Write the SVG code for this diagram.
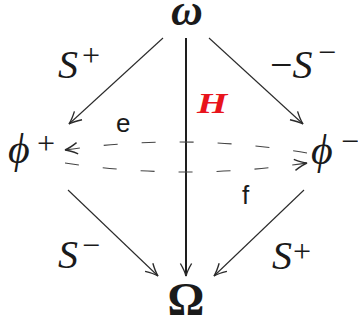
<svg xmlns="http://www.w3.org/2000/svg" width="358" height="322" viewBox="0 0 358 322">
<style>
.ln{fill:none;stroke:#2a2a2a;stroke-width:1.1}
.vl{fill:none;stroke:#1e1e1e;stroke-width:2}
.dl{fill:none;stroke:#444;stroke-width:1.1;stroke-dasharray:14 24}
.ah{fill:none;stroke:#2a2a2a;stroke-width:1.1;stroke-dasharray:none}
.ser{font-family:"Liberation Serif","DejaVu Serif",serif;fill:#1a1a1a}
.it{font-style:italic}
.big{font-size:40px}
.phi{font-size:42px}
.sup{font-size:32px}
.sans{font-family:"Liberation Sans","DejaVu Sans",sans-serif;font-size:26px;fill:#1a1a1a}
</style>
<defs>
<marker id="arr" markerUnits="userSpaceOnUse" markerWidth="20" markerHeight="20" viewBox="-12 -8 14 16" refX="0" refY="0" orient="auto" overflow="visible">
<path class="ah" d="M-10,-4.5 Q-4,-1 0,0 Q-4,1 -10,4.5"/>
</marker>
</defs>
<g id="connectors">
<line class="ln" x1="163" y1="38" x2="69" y2="124" marker-end="url(#arr)"/>
<line class="ln" x1="209" y1="38" x2="303" y2="124" marker-end="url(#arr)"/>
<line class="ln" x1="68" y1="190" x2="158" y2="276" marker-end="url(#arr)"/>
<line class="ln" x1="304" y1="190" x2="214" y2="276" marker-end="url(#arr)"/>
<line class="vl" x1="186" y1="38" x2="186" y2="276" marker-end="url(#arr)"/>
<path class="dl" d="M307,153 Q186,132.5 65,150" marker-end="url(#arr)"/>
<path class="dl" d="M65,163 Q186,181 307,163" marker-end="url(#arr)"/>
</g>
<g id="omega">
<text class="ser" x="187" y="25" text-anchor="middle" font-size="44" font-weight="bold" font-style="italic">ω</text>
</g>
<g id="Omega">
<text class="ser" x="186" y="315" text-anchor="middle" font-size="46" font-weight="bold">Ω</text>
</g>
<g id="phiplus">
<text class="ser it phi" x="8" y="163">ϕ</text>
<text class="ser sup" x="37" y="154">+</text>
</g>
<g id="phiminus">
<text class="ser it phi" x="311" y="164">ϕ</text>
<text class="ser sup" x="341" y="152">−</text>
</g>
<g id="labels">
<text class="ser big it" x="58" y="78">S</text>
<text class="ser sup" x="82" y="65.5">+</text>
<text class="ser big" x="270" y="78">−<tspan class="it">S</tspan></text>
<text class="ser sup" x="318" y="63">−</text>
<text class="ser big it" x="58" y="268">S</text>
<text class="ser sup" x="82" y="256">−</text>
<text class="ser big it" x="272" y="269">S</text>
<text class="ser sup" x="293" y="261.5">+</text>
<text class="ser" transform="translate(197,113) scale(1.3,1)" x="0" y="0" font-size="30" font-weight="bold" font-style="italic" style="fill:#e8141c">H</text>
<text class="sans" x="116" y="132">e</text>
<text class="sans" x="242" y="204">f</text>
</g>
</svg>
